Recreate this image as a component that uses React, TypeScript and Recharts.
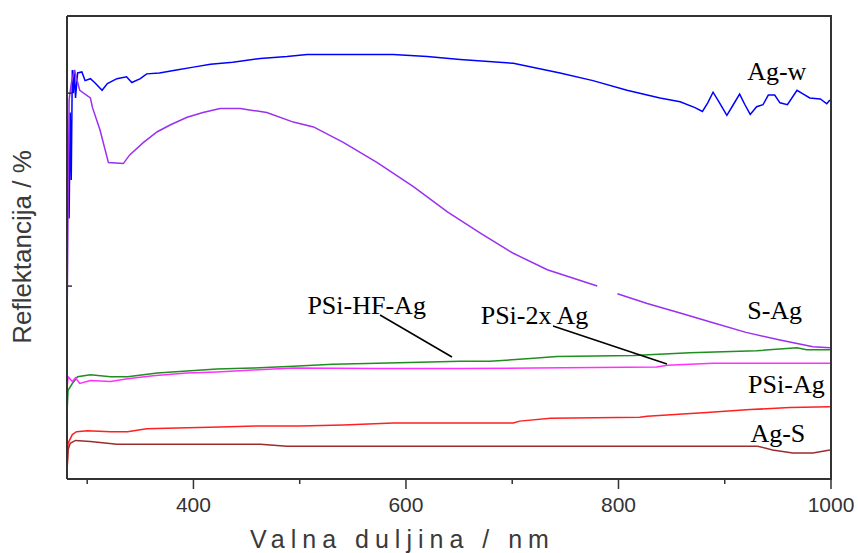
import React from "react";
import { LineChart, Line, XAxis, YAxis, ReferenceLine, ReferenceDot } from "recharts";

// wavelength (nm), reflectance (%) pairs
const agW: [number, number][] = [
  [281, 29.0], [282, 34], [283, 27], [284, 38], [285, 31], [286, 42.4], [287, 40], [288, 42.4],
  [289, 39.5], [291, 42.1], [295, 42.2], [298, 41.3], [303, 41.5], [307, 41.1], [314, 40.3],
  [319, 41.0], [328, 41.5], [337, 41.7], [342, 41.1], [350, 41.5], [356, 42.0], [368, 42.1],
  [384, 42.4], [400, 42.7], [416, 43.0], [437, 43.2], [463, 43.6], [488, 43.8], [507, 44.0],
  [541, 44.0], [588, 44.0], [620, 43.8], [651, 43.5], [701, 43.1], [745, 42.1], [776, 41.3],
  [808, 40.3], [839, 39.5], [858, 39.1], [872, 38.5], [879, 38.1], [884, 39.0], [889, 40.1],
  [894, 39.2], [902, 37.7], [908, 38.8], [914, 39.9], [919, 38.8], [924, 37.8], [930, 38.6],
  [936, 38.8], [941, 39.8], [947, 39.8], [952, 39.0], [959, 38.8], [968, 40.3], [974, 39.9],
  [980, 39.5], [990, 39.4], [996, 38.9], [999, 39.3],
];

const sAg: [number, number | null][] = [
  [281, 15.4], [282, 28], [283, 39.3], [285, 41], [288, 42.4], [293, 40.3], [303, 39.5],
  [305, 38.5], [312, 36.2], [320, 32.8], [334, 32.7], [340, 33.6], [353, 34.9], [366, 36.0],
  [378, 36.7], [394, 37.5], [409, 38.0], [425, 38.4], [444, 38.4], [469, 38.0], [494, 37.0],
  [513, 36.5], [541, 34.9], [573, 32.8], [607, 30.3], [639, 27.7], [670, 25.5], [701, 23.4],
  [733, 21.7], [780, 20.0], [790, null], [799, 19.2], [827, 18.2], [858, 17.2], [889, 16.2],
  [920, 15.2], [952, 14.4], [983, 13.7], [999, 13.6],
];

const psiHfAg: [number, number][] = [
  [281, 6.8], [282, 9.2], [286, 9.9], [291, 10.6], [303, 10.8], [322, 10.6], [338, 10.6],
  [366, 11.0], [394, 11.2], [422, 11.4], [456, 11.5], [494, 11.7], [531, 11.9], [573, 12.0],
  [613, 12.1], [651, 12.2], [679, 12.2], [717, 12.5], [742, 12.7], [814, 12.8], [867, 13.1],
  [930, 13.3], [968, 13.6], [977, 13.4], [999, 13.4],
];

const psi2xAg: [number, number][] = [
  [281, 9.4], [282, 10.6], [286, 10.1], [289, 10.5], [293, 9.9], [303, 10.2], [322, 10.1],
  [338, 10.4], [362, 10.7], [394, 11.0], [422, 11.1], [456, 11.3], [494, 11.5], [573, 11.45],
  [651, 11.45], [720, 11.5], [836, 11.6], [846, 11.8], [889, 12.0], [945, 12.0], [999, 12.0],
];

const psiAg: [number, number][] = [
  [281, 0.4], [282, 3.7], [286, 4.6], [290, 4.9], [300, 5.0], [322, 4.9], [338, 4.9],
  [356, 5.2], [385, 5.3], [425, 5.4], [463, 5.5], [500, 5.5], [541, 5.6], [588, 5.8],
  [651, 5.8], [701, 5.8], [707, 6.0], [736, 6.3], [820, 6.4], [827, 6.5], [883, 6.9],
  [924, 7.2], [961, 7.4], [999, 7.5],
];

const agS: [number, number][] = [
  [281, 1.0], [282, 3.0], [284, 3.7], [289, 4.0], [303, 3.9], [328, 3.6], [369, 3.6],
  [463, 3.6], [488, 3.4], [651, 3.4], [931, 3.4], [945, 3.0], [964, 2.7], [983, 2.7], [999, 3.0],
];

const xDomain: [number, number] = [281, 1000];
const yDomain: [number, number] = [0, 48];
const xTicks = [300, 400, 500, 600, 700, 800, 900, 1000];
const yTicks = [0, 20, 40];

const toRows = (pts: [number, number | null][]) => pts.map(([nm, r]) => ({ nm, r }));

const series = [
  { name: "Ag-w", pts: agW, color: "#0000ff" },
  { name: "S-Ag", pts: sAg, color: "#9a30f0" },
  { name: "PSi-HF-Ag", pts: psiHfAg, color: "#1f8f1f" },
  { name: "PSi-2x Ag", pts: psi2xAg, color: "#ff30ff" },
  { name: "PSi-Ag", pts: psiAg, color: "#ff2020" },
  { name: "Ag-S", pts: agS, color: "#9b2d2d" },
];

// curve labels (label centre in data units)
const curveLabels = [
  { text: "Ag-w", x: 949, y: 42.3 },
  { text: "S-Ag", x: 947, y: 17.5 },
  { text: "PSi-Ag", x: 958, y: 9.85 },
  { text: "Ag-S", x: 950, y: 4.77 },
  { text: "PSi-HF-Ag", x: 563, y: 18.1 },
  { text: "PSi-2x Ag", x: 721, y: 17.0 },
];

const axisColor = "#333";

const XTick = (props: any) => {
  const { x, y, payload } = props;
  const major = payload.value % 200 === 0;
  return (
    <g>
      <line x1={x} y1={y} x2={x} y2={y + (major ? 10 : 5)} stroke={axisColor} strokeWidth={1.5} />
      {major && (
        <text x={x} y={y + 33} textAnchor="middle" fontSize={21} fill={axisColor}
          fontFamily="'Liberation Sans', Arial, sans-serif">
          {payload.value}
        </text>
      )}
    </g>
  );
};

const YTick = (props: any) => {
  const { x, y } = props;
  return <line x1={x} y1={y} x2={x + 5} y2={y} stroke={axisColor} strokeWidth={1.5} />;
};

export default function App() {
  return (
    <div style={{ position: "absolute", left: 0, top: 0, width: 858, height: 553, background: "#fff" }}>
      <LineChart width={858} height={553} margin={{ top: 16, right: 27, bottom: 44, left: 47 }}>
        <XAxis
          dataKey="nm"
          type="number"
          domain={xDomain}
          ticks={xTicks}
          interval={0}
          allowDataOverflow
          height={30}
          tickSize={0}
          tickMargin={0}
          tick={<XTick />}
          tickLine={false}
          axisLine={{ stroke: axisColor, strokeWidth: 2 }}
        />
        <YAxis
          type="number"
          domain={yDomain}
          ticks={yTicks}
          interval={0}
          allowDataOverflow
          width={20}
          tickSize={0}
          tickMargin={0}
          tick={<YTick />}
          tickLine={false}
          axisLine={{ stroke: axisColor, strokeWidth: 2 }}
        />

        {series.map((s) => (
          <Line
            key={s.name}
            data={toRows(s.pts)}
            dataKey="r"
            name={s.name}
            type="linear"
            stroke={s.color}
            strokeWidth={1.5}
            dot={false}
            activeDot={false}
            connectNulls={false}
            isAnimationActive={false}
          />
        ))}

        <ReferenceLine segment={[{ x: 575.6, y: 17.0 }, { x: 643.3, y: 12.65 }]} stroke="#000" strokeWidth={1.5} />
        <ReferenceLine segment={[{ x: 738.4, y: 15.86 }, { x: 845.6, y: 11.92 }]} stroke="#000" strokeWidth={1.5} />

        {curveLabels.map((l) => (
          <ReferenceDot
            key={l.text}
            x={l.x}
            y={l.y}
            r={0}
            fill="none"
            stroke="none"
            label={{
              value: l.text,
              position: "center",
              fill: "#000",
              fontSize: 26,
              fontFamily: "'Liberation Serif', 'Times New Roman', serif",
            }}
          />
        ))}
      </LineChart>

      {/* frame: top and right edges of the plot box */}
      <div
        style={{
          position: "absolute",
          left: 67,
          top: 15,
          width: 765,
          height: 465,
          boxSizing: "border-box",
          borderTop: `2px solid ${axisColor}`,
          borderRight: `2px solid ${axisColor}`,
          pointerEvents: "none",
        }}
      />

      <div
        style={{
          position: "absolute",
          left: 22 - 150,
          top: 247 - 16,
          width: 300,
          height: 32,
          lineHeight: "32px",
          textAlign: "center",
          transform: "rotate(-90deg)",
          fontFamily: "'Liberation Sans', Arial, sans-serif",
          fontSize: 26,
          color: "#3a3a3a",
          whiteSpace: "nowrap",
        }}
      >
        Reflektancija / %
      </div>
      <div
        style={{
          position: "absolute",
          left: 250,
          top: 524,
          lineHeight: "30px",
          fontFamily: "'Liberation Sans', Arial, sans-serif",
          fontSize: 25,
          letterSpacing: 6,
          color: "#3a3a3a",
          whiteSpace: "nowrap",
        }}
      >
        Valna duljina / nm
      </div>
    </div>
  );
}
